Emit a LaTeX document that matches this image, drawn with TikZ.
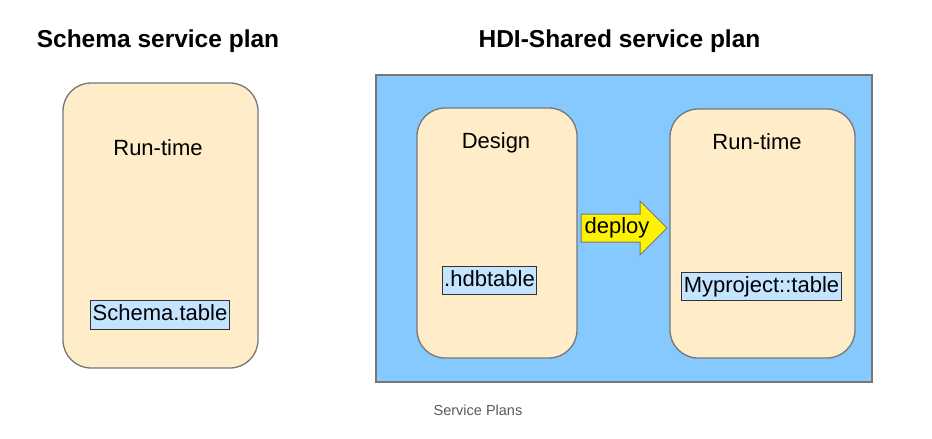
\documentclass[tikz,border=0pt]{standalone}
\usepackage{fontspec}
\setmainfont{Liberation Sans}
\usepackage{xcolor}
\usetikzlibrary{shapes.arrows,positioning}

\definecolor{planblue}{HTML}{85C9FF}
\definecolor{boxbeige}{HTML}{FFECC8}
\definecolor{tblblue}{HTML}{C4E4FF}
\definecolor{edgegray}{HTML}{777777}

\begin{document}
\begin{tikzpicture}[x=1pt,y=-1pt,
    title/.style={font=\fontsize{24.5}{29}\selectfont\bfseries,anchor=base},
    plain/.style={font=\fontsize{22}{26}\selectfont,anchor=base},
    stage/.style={draw=edgegray,line width=1.3pt,fill=boxbeige,rounded corners=28pt},
    tbl/.style={draw=black!80,line width=0.9pt,fill=tblblue,font=\fontsize{22}{26}\selectfont,
      inner xsep=2pt,inner ysep=4.5pt,text height=15.5pt,text depth=4pt}]
  \useasboundingbox (0,0) rectangle (932,439);
  % titles
  \node[title] (schemaT) at (158,47) {Schema service plan};
  \node[title] (hdiT) at (619.5,47) {HDI-Shared service plan};
  % schema plan
  \node[stage,minimum width=195pt,minimum height=285pt] (schema) at (160.5,225.5) {};
  \node[plain] (schemaRun) at (158,155) {Run-time};
  \node[tbl] (schemaTbl) at (160,315) {Schema.table};
  % hdi plan
  \node[draw=edgegray,line width=1.3pt,fill=planblue,minimum width=496pt,minimum height=307pt] (hdi) at (624,228.5) {};
  \node[stage,minimum width=160pt,minimum height=250pt] (design) at (497,233) {};
  \node[stage,minimum width=185pt,minimum height=249pt] (runtime) at (762.5,233.5) {};
  \node[plain] (designT) at (496,148) {Design};
  \node[plain] (runtimeT) at (757,149) {Run-time};
  \node[tbl] (hdbTbl) at (489.5,280.5) {.hdbtable};
  \node[tbl] (projTbl) at (761.5,286.5) {Myproject::table};
  \node[single arrow,draw=edgegray,line width=1pt,fill=yellow,font=\fontsize{22}{26}\selectfont,
    inner xsep=1pt,inner ysep=4pt,text height=15pt,text depth=4pt,
    single arrow head extend=13pt,minimum height=86pt] (deploy) at (617,228) {deploy};
  % caption
  \node[font=\fontsize{14.5}{17}\selectfont,text=black!65,anchor=base] (cap) at (478,415) {Service Plans};
\end{tikzpicture}
\end{document}
